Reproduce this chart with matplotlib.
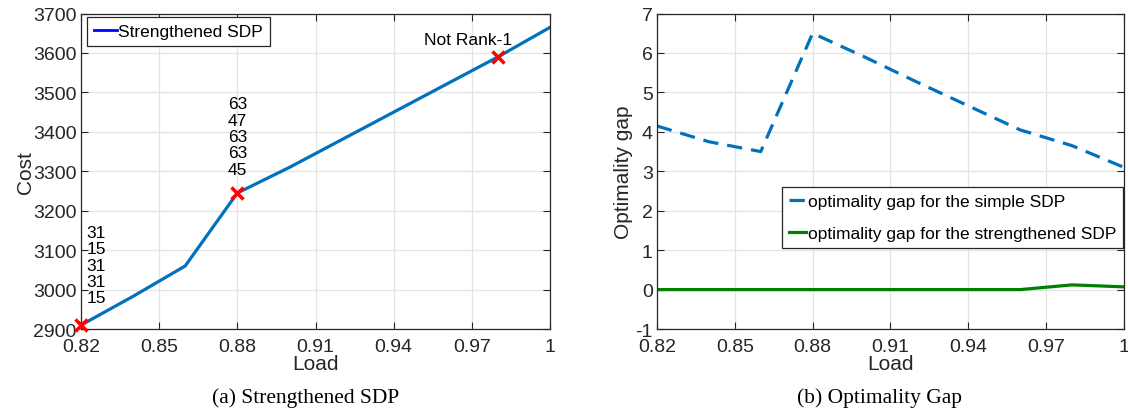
import matplotlib
matplotlib.use('Agg')
import matplotlib.pyplot as plt
from matplotlib.lines import Line2D

# data
load = [0.82, 0.84, 0.86, 0.88, 0.90, 0.92, 0.94, 0.96, 0.98, 1.00]
cost_strong = [2910, 2983, 3060, 3245, 3310, 3380, 3450, 3520, 3590, 3665]
gap_simple = [4.15, 3.75, 3.5, 6.5, 5.9, 5.27, 4.66, 4.05, 3.65, 3.1]
gap_strong = [0, 0, 0, 0, 0, 0, 0, 0, 0.12, 0.07]

mark_load = [0.82, 0.88, 0.98]
mark_cost = [2910, 3245, 3590]
note_low = ['31', '15', '31', '31', '15']
note_mid = ['63', '47', '63', '63', '45']

xticks = [0.82, 0.85, 0.88, 0.91, 0.94, 0.97, 1.0]
xticklabels = ['0.82', '0.85', '0.88', '0.91', '0.94', '0.97', '1']

plt.rcParams['font.family'] = ['Liberation Sans', 'DejaVu Sans']
plt.rcParams['axes.unicode_minus'] = False

blue = '#0072BD'
green = '#008000'
spine_col = '#262626'

fig = plt.figure(figsize=(11.28, 4.10), dpi=100)
ax1 = fig.add_axes([0.0718, 0.195, 0.4158, 0.7695])
ax2 = fig.add_axes([0.5824, 0.195, 0.414, 0.7695])


def style_axes(ax):
    ax.set_xlim(0.82, 1.0)
    ax.set_xticks(xticks)
    ax.set_xticklabels(xticklabels)
    ax.grid(True, color='#e3e3e3', linewidth=0.9)
    ax.set_axisbelow(True)
    ax.tick_params(direction='in', top=True, right=True, labelsize=14,
                   colors=spine_col, length=5, pad=3)
    ax.tick_params(axis='x', pad=6.5)
    for s in ax.spines.values():
        s.set_color(spine_col)
        s.set_linewidth(0.9)
    ax.set_xlabel('Load', fontsize=15, color=spine_col, labelpad=-1)


# (a) strengthened SDP
ax1.plot(load, cost_strong, color=blue, linewidth=2.3)
ax1.plot(mark_load, mark_cost, linestyle='none', marker='x', color='red',
         markersize=8, markeredgewidth=2.5, clip_on=False, zorder=5)
style_axes(ax1)
ax1.set_ylim(2900, 3700)
ax1.set_yticks(range(2900, 3701, 100))
ax1.set_ylabel('Cost', fontsize=15, color=spine_col, labelpad=-1)

ax1.text(0.822, 3062, '\n'.join(note_low), fontsize=12.5, ha='left',
         va='center', linespacing=1.11)
ax1.text(0.88, 3388, '\n'.join(note_mid), fontsize=12.5, ha='center',
         va='center', linespacing=1.11)
ax1.text(0.9687, 3633, 'Not Rank-1', fontsize=12.5, ha='center', va='center')

h = Line2D([], [], color='blue', linewidth=2)
leg1 = ax1.legend([h], ['Strengthened SDP'], loc='upper left', fontsize=12.5,
                  handlelength=1.3, handletextpad=0.1, borderpad=0.4,
                  borderaxespad=0, fancybox=False, framealpha=1,
                  edgecolor=spine_col, bbox_to_anchor=(0.0128, 0.99))
leg1.get_frame().set_linewidth(0.9)

# (b) optimality gap
ax2.plot(load, gap_simple, color=blue, linewidth=2.3, dashes=(4.8, 2.8),
         label='optimality gap for the simple SDP')
ax2.plot(load, gap_strong, color=green, linewidth=2.3,
         label='optimality gap for the strengthened SDP')
style_axes(ax2)
ax2.set_ylim(-1, 7)
ax2.set_yticks(range(-1, 8))
ax2.set_ylabel('Optimality gap', fontsize=15, color=spine_col, labelpad=2)
leg2 = ax2.legend(loc='upper right', bbox_to_anchor=(0.998, 0.45),
                  fontsize=12.5, handlelength=1.0, handletextpad=0.1,
                  borderpad=0.4, labelspacing=0.95, borderaxespad=0,
                  fancybox=False, framealpha=1, edgecolor=spine_col)
leg2.get_frame().set_linewidth(0.9)

# captions
fig.text(0.271, 0.029, '(a) Strengthened SDP', family='Liberation Serif',
         fontsize=15.5, ha='center', va='center')
fig.text(0.78, 0.029, '(b) Optimality Gap', family='Liberation Serif',
         fontsize=15.5, ha='center', va='center')

fig.savefig('out.png', dpi=100)
